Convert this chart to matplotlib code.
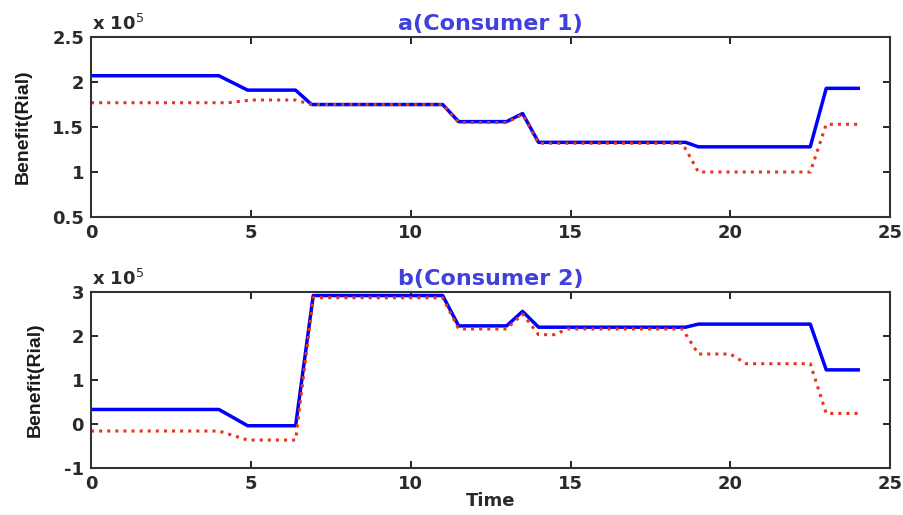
import matplotlib
matplotlib.use('Agg')
import matplotlib.pyplot as plt
from matplotlib.ticker import FuncFormatter

# consumer 1 (values in units of 1e5 Rial)
t1_opt = [0, 4, 4.9, 6.4, 6.9, 11, 11.5, 13, 13.5, 14, 18.6, 19, 22.5, 23, 24]
b1_opt = [2.07, 2.07, 1.91, 1.91, 1.75, 1.75, 1.56, 1.56, 1.65, 1.33, 1.33, 1.28, 1.28, 1.93, 1.93]
t1_base = [0, 4.3, 5, 6.4, 6.9, 11, 11.5, 13, 13.5, 14, 18.5, 19, 22.5, 23, 24]
b1_base = [1.77, 1.77, 1.80, 1.80, 1.75, 1.75, 1.55, 1.55, 1.64, 1.32, 1.32, 1.00, 1.00, 1.53, 1.53]

# consumer 2
t2_opt = [0, 4, 4.9, 6.4, 6.95, 11, 11.5, 13, 13.5, 14, 18.6, 19, 22.5, 23, 24]
b2_opt = [0.33, 0.33, -0.04, -0.04, 2.92, 2.92, 2.23, 2.23, 2.56, 2.20, 2.20, 2.27, 2.27, 1.23, 1.23]
t2_base = [0, 4, 4.9, 6.4, 6.95, 11, 11.5, 13, 13.5, 14, 14.5, 14.9, 18.5, 19, 20, 20.5, 22.5, 23, 24]
b2_base = [-0.16, -0.16, -0.365, -0.365, 2.87, 2.87, 2.16, 2.16, 2.50, 2.03, 2.03, 2.16, 2.16, 1.59, 1.59, 1.37, 1.37, 0.24, 0.24]

titles = ['a(Consumer 1)', 'b(Consumer 2)']
ylims = [(0.5e5, 2.5e5), (-1e5, 3e5)]
yticks = [[0.5e5, 1e5, 1.5e5, 2e5, 2.5e5], [-1e5, 0, 1e5, 2e5, 3e5]]

plt.rcParams['font.family'] = ['DejaVu Sans']

fig = plt.figure(figsize=(9.04, 5.15), dpi=100)
ax1 = fig.add_axes([0.1007, 0.5786, 0.884, 0.3495])
ax2 = fig.add_axes([0.1007, 0.0913, 0.884, 0.3417])

data = [(t1_opt, b1_opt, t1_base, b1_base), (t2_opt, b2_opt, t2_base, b2_base)]
fmt = FuncFormatter(lambda v, p: '%g' % (v / 1e5))

for i, ax in enumerate([ax1, ax2]):
    to, bo, tb, bb = data[i]
    ax.plot(to, [v * 1e5 for v in bo], '-', color='#0000ff', lw=2.5)
    ax.plot(tb, [v * 1e5 for v in bb], ':', color='#e8341c', lw=2.2)
    ax.set_xlim(0, 25)
    ax.set_ylim(*ylims[i])
    ax.set_xticks([0, 5, 10, 15, 20, 25])
    ax.set_yticks(yticks[i])
    ax.yaxis.set_major_formatter(fmt)
    ax.tick_params(direction='in', top=True, right=True, length=5, width=1.2,
                   labelsize=13, pad=5)
    for lab in ax.get_xticklabels() + ax.get_yticklabels():
        lab.set_fontweight('bold')
        lab.set_color('#2a2a2a')
    for sp in ax.spines.values():
        sp.set_linewidth(1.5)
        sp.set_color('#333333')
    ax.set_title(titles[i], color='#4040dc', fontsize=16, fontweight='bold', pad=5)
    ax.set_ylabel('Benefit(Rial)', family=['Liberation Sans Narrow', 'Liberation Sans'],
                  fontsize=14, fontweight='bold', labelpad=15, color='#1a1a1a')
    ax.annotate(r'x 10$^{5}$', xy=(0, 1), xycoords='axes fraction', xytext=(1, 2),
                textcoords='offset points', fontsize=13, fontweight='bold',
                color='#2a2a2a', va='bottom')

ax2.set_xlabel('Time', fontsize=13, fontweight='bold', labelpad=-1, color='#2a2a2a')

fig.savefig('out.png', dpi=100)
